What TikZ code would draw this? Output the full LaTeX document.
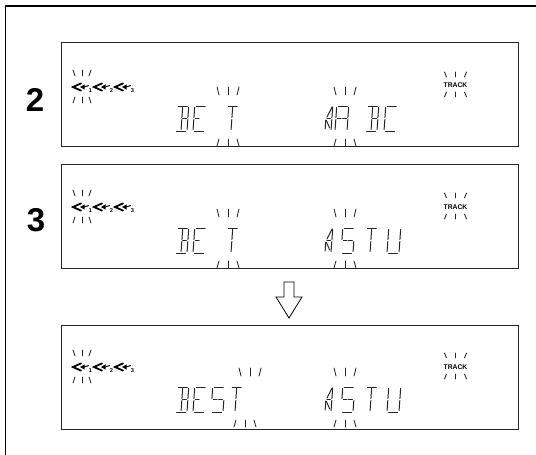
\documentclass[tikz,border=0pt]{standalone}
\usepackage{fontspec}
\setmainfont{Liberation Sans}
\newcommand\segdraw[4]{\draw[segline] ({#1+(25-(#2))*0.07},#2) -- ({#3+(25-(#4))*0.07},#4);}
\newcommand\sgA{\segdraw{1.5}{0}{10.5}{0}}
\newcommand\sgD{\segdraw{1.5}{25}{10.5}{25}}
\newcommand\sgF{\segdraw{0}{1.5}{0}{11.5}}
\newcommand\sgE{\segdraw{0}{13.5}{0}{23.5}}
\newcommand\sgB{\segdraw{12}{1.5}{12}{11.5}}
\newcommand\sgC{\segdraw{12}{13.5}{12}{23.5}}
\newcommand\sgG{\segdraw{1.5}{12.5}{5.3}{12.5}}
\newcommand\sgH{\segdraw{6.7}{12.5}{10.5}{12.5}}
\newcommand\sgI{\segdraw{6}{1.5}{6}{11.5}}
\newcommand\sgJ{\segdraw{6}{13.5}{6}{23.5}}
\newcommand\blinkup[4]{%
  \draw[blinkline] ({#1-#3},#2) -- ({#1-#3+2},{#2+#4});
  \draw[blinkline] (#1,#2) -- (#1,{#2+#4});
  \draw[blinkline] ({#1+#3},#2) -- ({#1+#3-2},{#2+#4});}
\newcommand\blinkdown[4]{%
  \draw[blinkline] ({#1-#3},{#2+#4}) -- ({#1-#3+2},#2);
  \draw[blinkline] (#1,#2) -- (#1,{#2+#4});
  \draw[blinkline] ({#1+#3},{#2+#4}) -- ({#1+#3-2},#2);}
\newcommand\skipgrp[3]{%
  \draw[line width=1.8pt,line join=miter] ({#1+8},{#2-3.6}) -- (#1,#2) -- ({#1+8},{#2+3.6});
  \fill ({#1+7},#2) -- ({#1+11.5},{#2-2.6}) -- ({#1+11.5},{#2+2.6}) -- cycle;
  \draw[line width=1pt] ({#1+11},#2) -- ({#1+15.5},{#2-1.4});
  \node[subnum] at ({#1+17.5},{#2+4}) {#3};}
\newcommand\skiprow[1]{\skipgrp{73}{#1}{1}\skipgrp{94}{#1}{2}\skipgrp{115}{#1}{3}}
\begin{document}
\begin{tikzpicture}[x=1pt,y=-1pt,line cap=round,
  segline/.style={line width=1pt,black!85},
  blinkline/.style={line width=0.85pt,black!85},
  subnum/.style={font=\fontsize{5.6}{6}\selectfont\bfseries,inner sep=0pt},
  dispbox/.style={draw=black!85,line width=0.9pt},
  stepnum/.style={font=\fontsize{33}{33}\selectfont\bfseries,inner sep=0pt,anchor=base},
  tracklbl/.style={font=\fontsize{6.8}{7}\selectfont\bfseries,inner sep=0pt},
  letB/.pic={\sgA\sgB\sgC\sgD\sgH\sgI\sgJ},
  letE/.pic={\sgA\sgF\sgE\sgD\sgG},
  letT/.pic={\sgA\sgI\sgJ},
  letS/.pic={\sgA\sgF\sgG\sgH\sgC\sgD},
  letU/.pic={\sgF\sgE\sgB\sgC\sgD},
  letA/.pic={\sgA\sgF\sgE\sgB\sgC\sgG\sgH},
  letC/.pic={\sgA\sgF\sgE\sgD},
  letFour/.pic={\segdraw{5.5}{1}{1}{11}\segdraw{1}{12.5}{4.5}{12.5}\segdraw{6}{1}{6}{11.5}\segdraw{6}{13.5}{6}{23.5}\segdraw{0}{14}{0}{23}\segdraw{0.7}{14.5}{4.5}{22}}
]
\useasboundingbox (0,0) rectangle (536,455);
% outer frame
\draw[line width=1.2pt] (5.5,455) -- (5.5,6) -- (536,6);

% ---------- box 1 ----------
\draw[dispbox] (61,42) rectangle (518,146);
\node[stepnum] (n2) at (35,111) {2};
\skiprow{87}
\blinkup{82}{70}{9}{6}\blinkdown{82}{97}{9}{6}
\node[tracklbl] (t1) at (455.5,85) {TRACK};
\blinkup{455.5}{72}{11}{5}\blinkdown{455.5}{92}{11}{5}
\pic at (175,106) {letB};
\pic at (193,106) {letE};
\pic at (225,106) {letT};
\blinkup{228}{87}{11}{8}\blinkdown{228}{139}{11}{7}
\pic at (325,106) {letFour};
\pic at (335,106) {letA};
\pic at (365,106) {letB};
\pic at (384,106) {letC};
\blinkup{345}{87}{11}{8}\blinkdown{345}{139}{11}{7}

% ---------- box 2 ----------
\draw[dispbox] (61,164) rectangle (518,268);
\node[stepnum] (n3) at (36,231) {3};
\skiprow{207}
\blinkup{82}{190}{9}{6}\blinkdown{82}{217}{9}{6}
\node[tracklbl] (t2) at (455.5,207) {TRACK};
\blinkup{455.5}{193}{11}{5}\blinkdown{455.5}{214}{11}{5}
\pic at (175,228) {letB};
\pic at (193,228) {letE};
\pic at (225,228) {letT};
\blinkup{228}{209}{11}{8}\blinkdown{228}{261}{11}{7}
\pic at (325,228) {letFour};
\pic at (341,228) {letS};
\pic at (364,228) {letT};
\pic at (387,228) {letU};
\blinkup{345}{209}{11}{8}\blinkdown{345}{261}{11}{7}

% ---------- arrow ----------
\draw[line width=0.8pt,line join=miter,fill=white] (284,282) -- (294,282) -- (294,297) -- (302,297) -- (289,318) -- (276,297) -- (284,297) -- cycle;

% ---------- box 3 ----------
\draw[dispbox] (61,325) rectangle (518,429);
\skiprow{367}
\blinkup{82}{350}{9}{6}\blinkdown{82}{377}{9}{6}
\node[tracklbl] (t3) at (455.5,367) {TRACK};
\blinkup{455.5}{353}{11}{5}\blinkdown{455.5}{374}{11}{5}
\pic at (175,387) {letB};
\pic at (193,387) {letE};
\pic at (211,387) {letS};
\pic at (229,387) {letT};
\blinkup{250}{368}{11}{8}\blinkdown{245}{420}{11}{7}
\pic at (325,387) {letFour};
\pic at (341,387) {letS};
\pic at (364,387) {letT};
\pic at (387,387) {letU};
\blinkup{345}{368}{11}{8}\blinkdown{345}{420}{11}{7}
\end{tikzpicture}
\end{document}
